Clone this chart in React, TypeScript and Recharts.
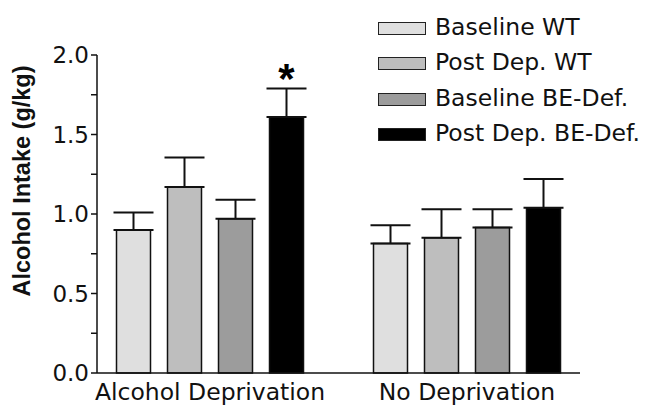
import { BarChart, Bar, XAxis, YAxis, ErrorBar, Legend, LabelList } from 'recharts';

const categories = ['Alcohol Deprivation', 'No Deprivation'];

const seriesNames = ['Baseline WT', 'Post Dep. WT', 'Baseline BE-Def.', 'Post Dep. BE-Def.'];
const seriesColors = ['#dfdfdf', '#bebebe', '#9c9c9c', '#000000'];

const baselineWT = [0.9, 0.815];
const postDepWT = [1.17, 0.85];
const baselineBE = [0.97, 0.915];
const postDepBE = [1.61, 1.04];

const baselineWTErr = [0.11, 0.115];
const postDepWTErr = [0.185, 0.18];
const baselineBEErr = [0.12, 0.115];
const postDepBEErr = [0.18, 0.18];

const significance = ['*', ''];

const yTicks = [0, 0.25, 0.5, 0.75, 1, 1.25, 1.5, 1.75, 2];

// the scanned figure is a bit stretched sideways, DejaVu's wider glyphs fit it better
const FONT = '"DejaVu Sans", "Liberation Sans", Arial, sans-serif';
const LABEL_FONT = '"Liberation Sans", Arial, Helvetica, sans-serif';

const values = [baselineWT, postDepWT, baselineBE, postDepBE];
const errors = [baselineWTErr, postDepWTErr, baselineBEErr, postDepBEErr];

const data = categories.map((name, i) => {
  const row: any = { name, sig: significance[i] };
  values.forEach((v, s) => {
    row['s' + s] = v[i];
    row['e' + s] = [0, errors[s][i]];
  });
  return row;
});

const YLabel = (props: any) => {
  const vb = props.viewBox;
  const x = vb.x + 30;
  const y = vb.y + vb.height / 2 - 33;
  return (
    <text
      x={x}
      y={y}
      transform={`rotate(-90 ${x} ${y})`}
      textAnchor="middle"
      fontFamily={LABEL_FONT}
      fontWeight="bold"
      fontSize={23.5}
      fill="#111"
    >
      Alcohol Intake (g/kg)
    </text>
  );
};

const renderLegend = () => (
  <div style={{ fontFamily: FONT, fontSize: 23.5, color: '#111' }}>
    {seriesNames.map((n, i) => (
      <div key={n} style={{ display: 'flex', alignItems: 'center', height: 35.5 }}>
        <span
          style={{
            display: 'inline-block',
            width: 46,
            height: 11,
            background: seriesColors[i],
            border: '1.5px solid #222',
            marginRight: 9,
            marginTop: 3,
          }}
        />
        <span style={{ whiteSpace: 'nowrap' }}>{n}</span>
      </div>
    ))}
  </div>
);

export default function App() {
  return (
    <div style={{ position: 'absolute', left: 0, top: 0, background: '#fff' }}>
      <BarChart
        width={652}
        height={405}
        data={data}
        margin={{ top: 55, right: 72, bottom: 0, left: 0 }}
        barSize={34}
        barGap={17}
      >
        <XAxis
          dataKey="name"
          padding={{ left: -15.5, right: -15.5 }}
          height={32}
          tickLine={false}
          tickMargin={4}
          axisLine={{ stroke: '#111', strokeWidth: 1.5 }}
          tick={{ fill: '#111', fontSize: 23.5, fontFamily: FONT }}
          interval={0}
        />
        <YAxis
          width={97}
          domain={[0, 2]}
          ticks={yTicks}
          interval={0}
          tickSize={6}
          tickFormatter={(v: number) => (v % 0.5 === 0 ? v.toFixed(1) : '')}
          axisLine={{ stroke: '#111', strokeWidth: 1.5 }}
          tickLine={{ stroke: '#111', strokeWidth: 1.5 }}
          tick={{ fill: '#111', fontSize: 23, fontFamily: FONT }}
          label={<YLabel />}
        />
        <Legend
          layout="vertical"
          align="center"
          verticalAlign="middle"
          content={renderLegend}
          wrapperStyle={{ left: 378, top: 9, width: 'auto', height: 'auto' }}
        />
        {seriesNames.map((n, s) => (
          <Bar
            key={n}
            dataKey={'s' + s}
            name={n}
            fill={seriesColors[s]}
            stroke="#111"
            strokeWidth={1.5}
            isAnimationActive={false}
          >
            <ErrorBar dataKey={'e' + s} width={20} stroke="#111" strokeWidth={2} direction="y" />
            {s === 3 && (
              <LabelList
                dataKey="sig"
                position="top"
                offset={24}
                fill="#000"
                fontSize={42}
                fontWeight="bold"
                fontFamily={LABEL_FONT}
              />
            )}
          </Bar>
        ))}
      </BarChart>
    </div>
  );
}
